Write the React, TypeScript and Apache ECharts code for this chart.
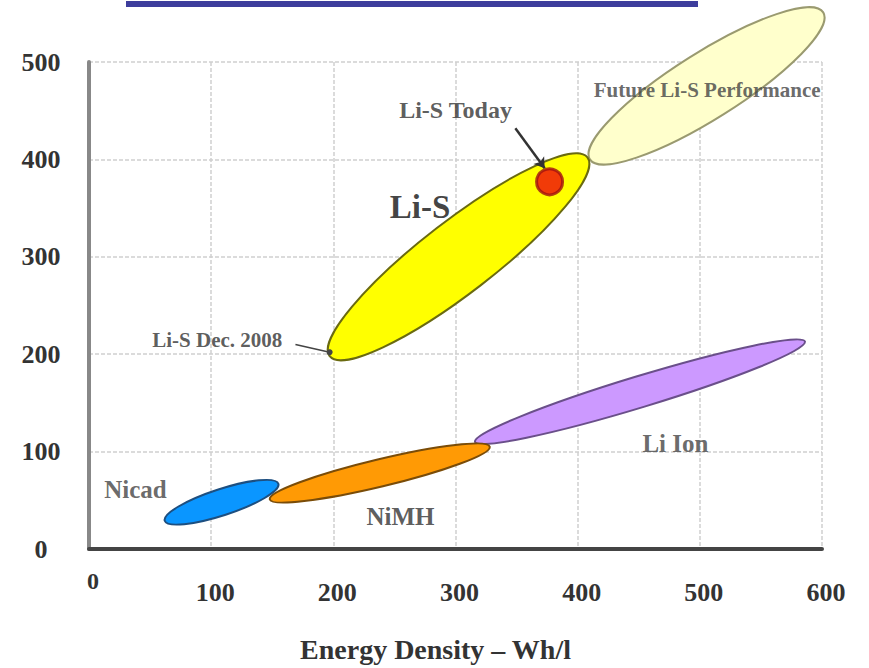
import React, { useEffect, useRef } from "react";
import * as echarts from "echarts";

// Technology ellipses: start tip, end tip (data units) and half thickness (y units)
const ellipseNames = ["Future Li-S Performance", "Li-S", "Li Ion", "Nicad", "NiMH"];
const ellipseStart = [[410, 400], [197, 198], [316, 110], [62, 29], [148, 51]];
const ellipseEnd = [[601, 551], [408, 402], [586, 213], [155, 67], [328, 105]];
const ellipseHalfWidth = [34, 37, 16, 13.5, 14];
const ellipseFill = ["#ffffcc", "#ffff00", "#cc99ff", "#0a96ff", "#ff9a05"];
const ellipseStroke = ["#9a9a70", "#6a6a10", "#6a4f8a", "#1d4f80", "#7a4c08"];

// Li-S today point
const todayPoint = [[377, 377]];

// Annotation labels
const labelNames = ["Li-S Today", "Li-S", "Future Li-S Performance", "Li-S Dec. 2008", "Li Ion", "Nicad", "NiMH"];
const labelPos = [[300, 451], [271, 351], [506, 471], [105, 215], [480, 108], [38, 61], [255, 33]];
const labelSize = [24, 33, 21, 21, 25, 25, 25];
const labelColor = ["#333", "#111", "#444", "#333", "#444", "#444", "#333"];

// Pointer lines
const todayArrow = [[349, 432], [373, 391]];
const decPointer = [[169, 210], [197, 202]];

const xTicks = { min: 0, max: 600, step: 100 };
const yTicks = { min: 0, max: 500, step: 100 };
const xTitle = "Energy Density \u2013 Wh/l";

const FONT = "'Liberation Serif', 'Times New Roman', serif";

export default function App() {
  const ref = useRef<HTMLDivElement>(null);
  useEffect(() => {
    if (!ref.current) return;
    const chart = echarts.init(ref.current, null, { renderer: "svg" });
    const ellipseData = ellipseNames.map((n, i) => ({
      name: n,
      value: [...ellipseStart[i], ...ellipseEnd[i], ellipseHalfWidth[i], i],
    }));
    const option: any = {
      animation: false,
      backgroundColor: "#ffffff",
      grid: { left: 89, right: 47, top: 62, bottom: 118, containLabel: false },
      graphic: [
        {
          type: "rect",
          shape: { x: 126, y: 1, width: 572, height: 6 },
          style: { fill: "#3d3d9c" },
          z: 10,
        },
      ],
      xAxis: {
        type: "value",
        min: xTicks.min,
        max: xTicks.max,
        interval: xTicks.step,
        name: xTitle,
        nameLocation: "middle",
        nameGap: 86,
        nameTextStyle: {
          fontFamily: FONT,
          fontWeight: "bold",
          fontSize: 28,
          color: "#333",
          padding: [0, 40, 0, 0],
        },
        axisLine: { show: true, lineStyle: { color: "#444", width: 4 } },
        axisTick: { show: false },
        splitLine: { show: true, lineStyle: { color: "#cfcfcf", width: 1.5, type: [4, 2] } },
        axisLabel: {
          margin: 20,
          formatter: (v: number) => (v === 0 ? "{z|0}" : "{n|" + v + "}"),
          rich: {
            z: { fontFamily: FONT, fontWeight: "bold", fontSize: 24, color: "#333", padding: [0, 0, 0, 8] },
            n: { fontFamily: FONT, fontWeight: "bold", fontSize: 26, color: "#333", padding: [10, 0, 0, 8] },
          },
        },
      },
      yAxis: {
        type: "value",
        min: yTicks.min,
        max: yTicks.max,
        interval: yTicks.step,
        axisLine: { show: true, lineStyle: { color: "#888", width: 4 } },
        axisTick: { show: false },
        splitLine: { show: true, lineStyle: { color: "#cfcfcf", width: 1.5, type: [4, 2] } },
        axisLabel: {
          align: "center",
          margin: 48,
          fontFamily: FONT,
          fontWeight: "bold",
          fontSize: 26,
          color: "#333",
        },
      },
      series: [
        {
          type: "custom",
          clip: false,
          data: ellipseData,
          encode: { x: [0, 2], y: [1, 3] },
          renderItem: (params: any, api: any) => {
            const p1 = api.coord([api.value(0), api.value(1)]);
            const p2 = api.coord([api.value(2), api.value(3)]);
            const hw = Math.abs(api.size([0, api.value(4)])[1]);
            const idx = api.value(5);
            const cx = (p1[0] + p2[0]) / 2;
            const cy = (p1[1] + p2[1]) / 2;
            const dx = p2[0] - p1[0];
            const dy = p2[1] - p1[1];
            const rx = Math.sqrt(dx * dx + dy * dy) / 2;
            const ang = Math.atan2(-dy, dx);
            return {
              type: "ellipse",
              x: cx,
              y: cy,
              rotation: ang,
              shape: { cx: 0, cy: 0, rx: rx, ry: hw },
              style: { fill: ellipseFill[idx], stroke: ellipseStroke[idx], lineWidth: 2 },
            };
          },
          z: 2,
        },
        {
          type: "scatter",
          data: todayPoint,
          symbolSize: 26,
          itemStyle: { color: "#ee0a0a", borderColor: "#a01010", borderWidth: 3 },
          z: 4,
        },
        {
          type: "lines",
          coordinateSystem: "cartesian2d",
          symbol: ["none", "arrow"],
          symbolSize: 10,
          lineStyle: { color: "#333", width: 2.5, opacity: 1 },
          data: [{ coords: todayArrow }],
          z: 5,
        },
        {
          type: "lines",
          coordinateSystem: "cartesian2d",
          symbol: ["none", "circle"],
          symbolSize: 6,
          lineStyle: { color: "#444", width: 1.5, opacity: 1 },
          data: [{ coords: decPointer }],
          z: 5,
        },
        {
          type: "scatter",
          symbolSize: 0,
          silent: true,
          z: 6,
          data: labelNames.map((n, i) => ({
            name: n,
            value: labelPos[i],
            label: { fontSize: labelSize[i], color: labelColor[i] },
          })),
          label: {
            show: true,
            position: "inside",
            formatter: "{b}",
            fontFamily: FONT,
            fontWeight: "bold",
          },
        },
      ],
    };
    chart.setOption(option);
    return () => chart.dispose();
  }, []);
  return (
    <div
      ref={ref}
      style={{ position: "absolute", left: 0, top: 0, width: 869, height: 668 }}
    />
  );
}
